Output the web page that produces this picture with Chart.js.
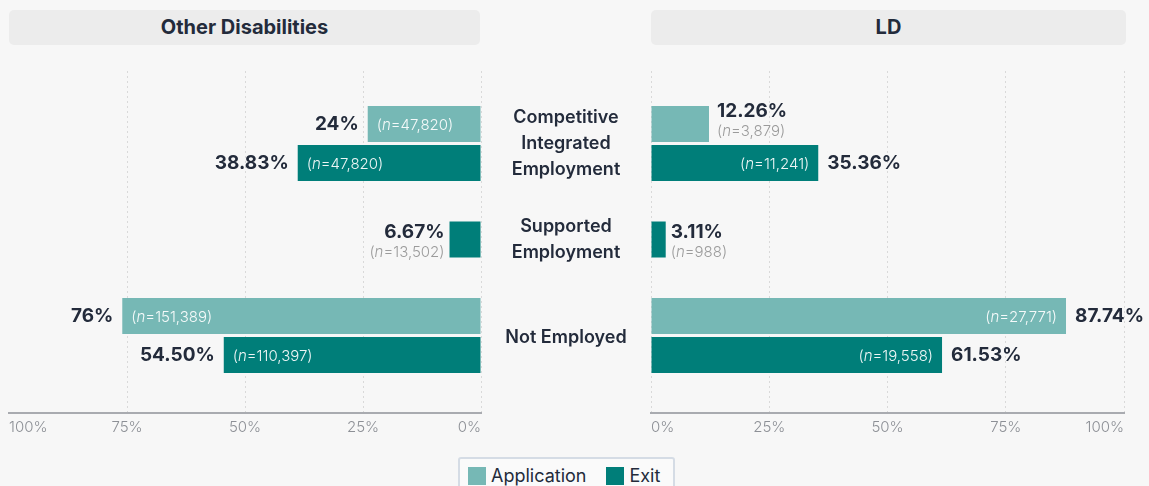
<!DOCTYPE html>
<html>
<head>
<meta charset="utf-8">
<script src="https://cdn.jsdelivr.net/npm/chart.js@4.4.1/dist/chart.umd.min.js"></script>
<style>
  html, body { margin: 0; padding: 0; background: #f7f7f7; }
  #wrap { position: relative; width: 1149px; height: 486px; overflow: hidden; font-family: Inter, sans-serif; color: #232b3b; }
  .panel-title { position: absolute; top: 10px; height: 35px; line-height: 35px; background: #ececec; border-radius: 5px; text-align: center; font-weight: 700; font-size: 20px; }
  #leftBox { position: absolute; left: 0; top: 0; width: 490px; height: 450px; }
  #rightBox { position: absolute; left: 481px; top: 0; width: 668px; height: 450px; }
  #legend { position: absolute; left: 458px; top: 457px; width: 217px; height: 40px; box-sizing: border-box; border: 2px solid #d5dce5; border-radius: 3px; background: #fafafa; padding: 7px 0 0 8px; display: flex; font-size: 18px; }
  #legend .item { display: flex; align-items: flex-start; margin-right: 20px; }
  #legend .sw { width: 18px; height: 18px; margin-right: 5px; margin-top: 1px; }
  #legend span { line-height: 20px; }
</style>
</head>
<body>
<div id="wrap">
  <div class="panel-title" style="left:9px;width:471px;">Other Disabilities</div>
  <div class="panel-title" style="left:651px;width:475px;">LD</div>
  <div id="leftBox"><canvas id="leftChart"></canvas></div>
  <div id="rightBox"><canvas id="rightChart"></canvas></div>
  <div id="legend"></div>
</div>
<script>
// Categories (one entry per row, split into display lines)
const categories = [['Competitive', 'Integrated', 'Employment'], ['Supported', 'Employment'], ['Not Employed']];
const seriesNames = ['Application', 'Exit'];
const seriesColors = ['#76b8b5', '#007e79'];
const tickValues = [0, 25, 50, 75, 100];

// Other Disabilities (percent and n)
const otherApplication = [24, null, 76];
const otherExit = [38.83, 6.67, 54.50];
const otherApplicationN = [47820, null, 151389];
const otherExitN = [47820, 13502, 110397];

// LD (percent and n)
const ldApplication = [12.26, null, 87.74];
const ldExit = [35.36, 3.11, 61.53];
const ldApplicationN = [3879, null, 27771];
const ldExitN = [11241, 988, 19558];

const PCT_FONT = '700 19px Inter';
const N_SIZE = 15;

function formatPct(v) {
    return (Number.isInteger(v) ? String(v) : v.toFixed(2)) + '%';
}

// "(n=47,820)" with an italic n
function nParts(n) {
    return [
        ['(', `300 ${N_SIZE}px Inter`],
        ['n', `italic 300 ${N_SIZE}px Inter`],
        ['=' + n.toLocaleString('en-US') + ')', `300 ${N_SIZE}px Inter`]
    ];
}

function measureN(ctx, n) {
    let w = 0;
    nParts(n).forEach(([t, f]) => { ctx.font = f; w += ctx.measureText(t).width; });
    return w;
}

function drawN(ctx, n, x, y, align, color) {
    const w = measureN(ctx, n);
    let cx = align === 'right' ? x - w : x;
    ctx.fillStyle = color;
    ctx.textAlign = 'left';
    nParts(n).forEach(([t, f]) => {
        ctx.font = f;
        ctx.fillText(t, cx, y);
        cx += ctx.measureText(t).width;
    });
}

// Percent and n labels next to / inside each bar
const barLabels = {
    id: 'barLabels',
    afterDatasetsDraw(chart) {
        const ctx = chart.ctx;
        chart.data.datasets.forEach((ds, di) => {
            const meta = chart.getDatasetMeta(di);
            meta.data.forEach((bar, i) => {
                const v = ds.data[i].x;
                if (v === null) return;
                const dir = bar.x >= bar.base ? 1 : -1;
                const len = Math.abs(bar.x - bar.base);
                const n = ds.nValues[i];
                const nW = measureN(ctx, n);
                ctx.save();
                ctx.textBaseline = 'middle';
                ctx.font = PCT_FONT;
                ctx.fillStyle = '#232b3b';
                ctx.textAlign = dir > 0 ? 'left' : 'right';
                if (nW + 18 <= len) {
                    ctx.fillText(formatPct(v), bar.x + dir * 9, bar.y);
                    drawN(ctx, n, bar.x - dir * 9, bar.y + 1, dir > 0 ? 'right' : 'left', 'rgba(255,255,255,0.93)');
                } else {
                    // bar too short: stack both labels outside
                    const up = di === 0 ? 13 : 7;
                    const gap = di === 0 ? 8 : 5;
                    ctx.fillText(formatPct(v), bar.x + dir * gap, bar.y - up);
                    drawN(ctx, n, bar.x + dir * gap, bar.y - up + 20, dir > 0 ? 'left' : 'right', '#9b9b9b');
                }
                ctx.restore();
            });
        });
    }
};

// Row labels in the gap between the two panels
const categoryLabels = {
    id: 'categoryLabels',
    afterDraw(chart) {
        const ctx = chart.ctx;
        const yScale = chart.scales.y;
        const cx = chart.chartArea.left - 85;
        ctx.save();
        ctx.font = '600 18px Inter';
        ctx.fillStyle = '#232b3b';
        ctx.textAlign = 'center';
        ctx.textBaseline = 'middle';
        categories.forEach((lines, i) => {
            const py = yScale.getPixelForValue(i) + (lines.length === 1 ? 2 : 0);
            lines.forEach((t, k) => ctx.fillText(t, cx, py + (k - (lines.length - 1) / 2) * 26));
        });
        ctx.restore();
    }
};

function toPoints(values) {
    return values.map((v, i) => ({ x: v, y: i }));
}

function makeChart(id, app, exit, appN, exitN, reverse, padding, plugins) {
    return new Chart(document.getElementById(id), {
        type: 'bar',
        data: {
            datasets: [
                { label: seriesNames[0], data: toPoints(app), nValues: appN, backgroundColor: seriesColors[0] },
                { label: seriesNames[1], data: toPoints(exit), nValues: exitN, backgroundColor: seriesColors[1] }
            ]
        },
        options: {
            indexAxis: 'y',
            responsive: true,
            maintainAspectRatio: false,
            animation: false,
            layout: { padding: padding },
            datasets: {
                bar: {
                    categoryPercentage: 78 / 96,
                    barPercentage: 36 / 39,
                    maxBarThickness: 36,
                    skipNull: true,
                    borderWidth: 0
                }
            },
            plugins: {
                legend: { display: false },
                tooltip: { enabled: false }
            },
            scales: {
                y: {
                    type: 'linear',
                    display: false,
                    reverse: true,
                    offset: false,
                    bounds: 'data',
                    grid: { offset: false },
                    min: -0.755,
                    max: 2.807,
                    afterBuildTicks: scale => { scale.ticks = categories.map((c, i) => ({ value: i })); }
                },
                x: {
                    type: 'linear',
                    min: 0,
                    max: 100,
                    reverse: reverse,
                    afterBuildTicks: scale => { scale.ticks = tickValues.map(v => ({ value: v })); },
                    afterFit: scale => { scale.height = 37; },
                    grid: {
                        drawTicks: false,
                        lineWidth: 1,
                        color: c => (reverse && c.tick && c.tick.value === 100) ? 'rgba(0,0,0,0)' : '#d9d9d9'
                    },
                    border: { display: true, color: '#a9abb0', width: 2, dash: [2, 3] },
                    ticks: {
                        align: 'inner',
                        padding: 5,
                        color: '#8d9096',
                        font: { family: 'Inter', size: 15, weight: 300 },
                        callback: v => v + '%'
                    }
                }
            }
        },
        plugins: plugins
    });
}

const leftChart = makeChart('leftChart', otherApplication, otherExit, otherApplicationN, otherExitN,
    true, { top: 71, left: 9, right: 9, bottom: 0 }, [barLabels]);
const rightChart = makeChart('rightChart', ldApplication, ldExit, ldApplicationN, ldExitN,
    false, { top: 71, left: 170, right: 25, bottom: 0 }, [barLabels, categoryLabels]);

// Legend built from the series
const legend = document.getElementById('legend');
seriesNames.forEach((name, i) => {
    const item = document.createElement('div');
    item.className = 'item';
    const sw = document.createElement('div');
    sw.className = 'sw';
    sw.style.background = seriesColors[i];
    const label = document.createElement('span');
    label.textContent = name;
    item.appendChild(sw);
    item.appendChild(label);
    legend.appendChild(item);
});
</script>
</body>
</html>
